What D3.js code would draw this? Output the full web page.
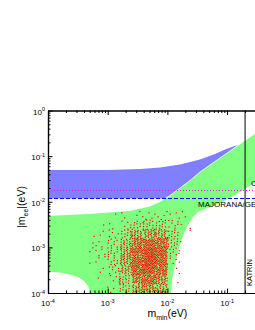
<!DOCTYPE html>
<html>
<head>
<meta charset="utf-8">
<title>|m_ee| vs m_min</title>
<script src="https://d3js.org/d3.v7.min.js"></script>
<style>
  body { margin: 0; background: #fff; }
  svg { display: block; font-family: "Liberation Sans", Arial, sans-serif; }
</style>
</head>
<body>
<div id="chart"></div>
<script>
// axis ticks
const xMajor = [1e-4, 1e-3, 1e-2, 1e-1, 1];
const yMajor = [1e-4, 1e-3, 1e-2, 1e-1, 1];
const xLabelled = [1e-4, 1e-3, 1e-2, 1e-1];

// inverted hierarchy band (m_min, |m_ee|)
const ihUpper = [[1e-4, 0.0497], [1e-3, 0.0497], [3.48e-3, 0.0522], [7.52e-3, 0.0563],
  [0.01625, 0.0655], [0.03516, 0.0843], [0.0627, 0.1113], [0.0923, 0.1397],
  [0.1256, 0.1625], [0.1645, 0.1798], [0.2418, 0.2373], [0.3556, 0.338]];
const ihLower = [[1e-4, 0.0118], [0.0105, 0.0118], [0.0163, 0.0135], [0.035, 0.028],
  [0.0627, 0.05], [0.1524, 0.12], [0.3556, 0.28]];

// normal hierarchy band
const nhUpper = [[1e-4, 0.0050], [2.34e-4, 0.00526], [5.06e-4, 0.00552], [1.09e-3, 0.00596],
  [2.36e-3, 0.00643], [5.12e-3, 0.00807], [7.52e-3, 0.01012], [0.01106, 0.0137],
  [0.01625, 0.0200], [0.02391, 0.0292], [0.03516, 0.0449], [0.05174, 0.0639],
  [0.0760, 0.0910], [0.1119, 0.1295], [0.1645, 0.1844], [0.2418, 0.2625], [0.3556, 0.3738]];
const nhLowerRight = [[0.3556, 0.0286], [0.293, 0.0264], [0.1645, 0.01637], [0.1119, 0.01208],
  [0.0760, 0.00939], [0.05808, 0.00807], [0.04266, 0.00694], [0.03258, 0.00596],
  [0.02685, 0.00463], [0.02213, 0.00309], [0.01824, 0.00177], [0.01563, 0.000968],
  [0.0134, 0.000411], [0.01194, 0.000193], [0.01149, 1e-4]];
const nhLowerLeft = [[5.25e-4, 1e-4], [4.68e-4, 0.000142], [4.01e-4, 0.000183],
  [3.19e-4, 0.000224], [2.34e-4, 0.000254], [1.59e-4, 0.000281], [1e-4, 0.000296]];

// scatter cloud: cell edges and dot counts per cell (rows bottom -> top)
const cloudM = [3.98e-4, 6.31e-4, 1e-3, 1.585e-3, 2.512e-3, 3.981e-3, 6.31e-3, 1e-2, 1.585e-2, 2.512e-2];
const cloudEE = [1e-4, 1.585e-4, 2.512e-4, 3.981e-4, 6.31e-4, 1e-3, 1.585e-3, 2.512e-3, 3.981e-3, 6.31e-3];
const cloudCounts = [
  [0, 0, 3, 12, 26, 32, 22, 0, 0],
  [0, 1, 5, 16, 36, 44, 34, 1, 0],
  [0, 2, 8, 24, 46, 54, 44, 2, 0],
  [1, 3, 9, 26, 50, 60, 50, 4, 0],
  [2, 4, 10, 26, 48, 58, 50, 10, 0],
  [1, 3, 8, 20, 40, 48, 42, 12, 1],
  [1, 2, 5, 13, 24, 28, 26, 11, 1],
  [0, 1, 2, 6, 10, 12, 12, 8, 2],
  [0, 0, 1, 2, 3, 4, 4, 3, 2]
];

// experimental limits
const cuoreLimit = 0.0177;
const gerdaLimit = 0.0118;
const katrinLimit = 0.2;

const W = 255, H = 330;
const x = d3.scaleLog().domain([1e-4, 1]).range([48, 286.8]);
const y = d3.scaleLog().domain([1e-4, 1]).range([293, 110.5]);

const svg = d3.select("#chart").append("svg")
  .attr("width", W).attr("height", H);

svg.append("clipPath").attr("id", "plot")
  .append("rect")
  .attr("x", x(1e-4)).attr("y", y(1))
  .attr("width", x(1) - x(1e-4)).attr("height", y(1e-4) - y(1));

const plot = svg.append("g").attr("clip-path", "url(#plot)");
const line = d3.line().x(d => x(d[0])).y(d => y(d[1]));

// IH band
plot.append("path")
  .attr("d", line(ihUpper.concat(ihLower.slice().reverse())) + "Z")
  .attr("fill", "#8080ff");

// NH band
plot.append("path")
  .attr("d", line(nhUpper.concat(nhLowerRight, nhLowerLeft)) + "Z")
  .attr("fill", "#80ff80");
plot.append("path")
  .attr("d", line(nhUpper))
  .attr("fill", "none").attr("stroke", "#fff").attr("stroke-width", 0.8);

// scatter cloud
let k = 0;
const dots = [];
cloudCounts.forEach((row, r) => {
  const e0 = Math.log10(cloudEE[r]), e1 = Math.log10(cloudEE[r + 1]);
  row.forEach((n, c) => {
    const m0 = Math.log10(cloudM[c]), m1 = Math.log10(cloudM[c + 1]);
    for (let i = 0; i < n; i++, k++) {
      const u = (0.5 + k * 0.7548776662) % 1;
      const v = (0.5 + k * 0.5698402910) % 1;
      dots.push([Math.pow(10, m0 + u * (m1 - m0)), Math.pow(10, e0 + v * (e1 - e0))]);
    }
  });
});
plot.append("g").selectAll("rect")
  .data(dots).join("rect")
  .attr("x", d => x(d[0]) - 0.6)
  .attr("y", d => y(d[1]) - 0.6)
  .attr("width", 1.2).attr("height", 1.2)
  .attr("fill", "#ff0000");

// limit lines
plot.append("line")
  .attr("x1", x(1e-4)).attr("x2", x(1))
  .attr("y1", y(cuoreLimit)).attr("y2", y(cuoreLimit))
  .attr("stroke", "#ff00ff").attr("stroke-width", 1).attr("stroke-dasharray", "1,2");
plot.append("line")
  .attr("x1", x(1e-4)).attr("x2", x(1))
  .attr("y1", y(gerdaLimit)).attr("y2", y(gerdaLimit))
  .attr("stroke", "#0000ff").attr("stroke-width", 1).attr("stroke-dasharray", "4,2");
plot.append("line")
  .attr("x1", x(katrinLimit)).attr("x2", x(katrinLimit))
  .attr("y1", y(1)).attr("y2", y(1e-4))
  .attr("stroke", "#000").attr("stroke-width", 1);

svg.append("text")
  .attr("x", x(katrinLimit) + 6).attr("y", y(cuoreLimit) - 4)
  .attr("font-size", 8).text("CUORE");
svg.append("text")
  .attr("x", x(katrinLimit) - 47).attr("y", y(gerdaLimit) + 8.5)
  .attr("font-size", 8).text("MAJORANA/GERDA");
svg.append("text")
  .attr("transform", `translate(${x(katrinLimit) + 7},${y(1e-4) - 7}) rotate(-90)`)
  .attr("font-size", 7.5).text("KATRIN");

// axes
function minors(arr) {
  const out = [];
  arr.slice(0, -1).forEach(v => { for (let i = 2; i <= 9; i++) out.push(v * i); });
  return out;
}
const axes = svg.append("g");
function addAxis(gen, tr, vals, size) {
  axes.append("g").attr("transform", tr)
    .call(gen.tickValues(vals).tickSize(size).tickSizeOuter(0).tickFormat(""))
    .call(g => g.selectAll("line").attr("stroke", "#000"))
    .call(g => g.select(".domain").attr("stroke", "#000").attr("stroke-width", 1.2));
}
addAxis(d3.axisLeft(y), `translate(${x(1e-4)},0)`, yMajor, -4.5);
addAxis(d3.axisLeft(y), `translate(${x(1e-4)},0)`, minors(yMajor), -2.5);
addAxis(d3.axisBottom(x), `translate(0,${y(1e-4)})`, xMajor, -4.5);
addAxis(d3.axisBottom(x), `translate(0,${y(1e-4)})`, minors(xMajor), -2.5);
addAxis(d3.axisTop(x), `translate(0,${y(1)})`, xMajor, -4.5);
addAxis(d3.axisTop(x), `translate(0,${y(1)})`, minors(xMajor), -2.5);
addAxis(d3.axisRight(y), `translate(${x(1)},0)`, yMajor, -4.5);

function tickLabel(sel, v) {
  const e = Math.round(Math.log10(v));
  sel.append("tspan").text("10");
  sel.append("tspan").attr("font-size", 5.5).attr("dy", -3.5).text(e);
}
yMajor.forEach(v => {
  svg.append("text")
    .attr("x", 45).attr("y", y(v) + 4)
    .attr("text-anchor", "end").attr("font-size", 8)
    .call(tickLabel, v);
});
xLabelled.forEach(v => {
  svg.append("text")
    .attr("x", x(v)).attr("y", 306)
    .attr("text-anchor", "middle").attr("font-size", 8)
    .call(tickLabel, v);
});

// axis titles
const xt = svg.append("text")
  .attr("x", x(1e-2)).attr("y", 317)
  .attr("text-anchor", "middle").attr("font-size", 10.5);
xt.append("tspan").text("m");
xt.append("tspan").attr("font-size", 7).attr("dy", 3).text("min");
xt.append("tspan").attr("dy", -3).text("(eV)");

const yt = svg.append("text")
  .attr("transform", "translate(25,207) rotate(-90)")
  .attr("text-anchor", "middle").attr("font-size", 10.5);
yt.append("tspan").text("|m");
yt.append("tspan").attr("font-size", 7).attr("dy", 3).text("ee");
yt.append("tspan").attr("dy", -3).text("|(eV)");
</script>
</body>
</html>
